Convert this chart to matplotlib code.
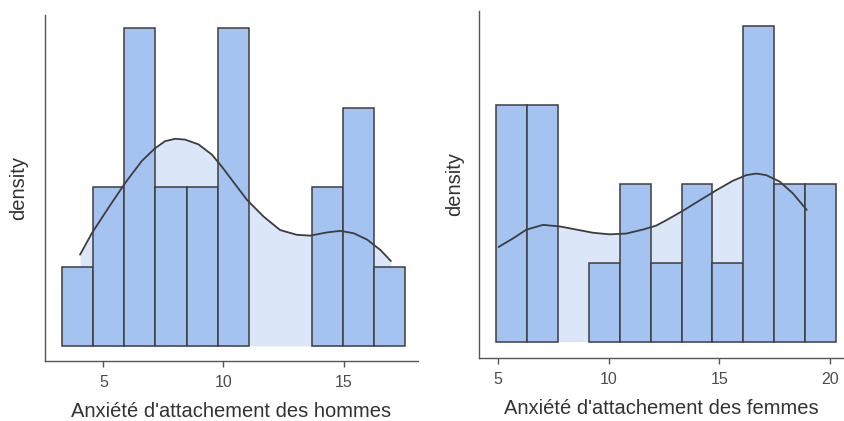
import matplotlib
matplotlib.use("Agg")
import matplotlib.pyplot as plt

plt.rcParams['font.family'] = ['Liberation Sans', 'DejaVu Sans']

# ---- Data: men ----
men_bin_start = 3.27
men_bin_width = 1.3
men_counts = [1, 2, 4, 2, 2, 4, 0, 0, 2, 3, 1]
men_kde_x = [4.03, 4.52, 5.21, 5.90, 6.60, 7.15, 7.57, 7.99, 8.40, 8.96, 9.52,
             9.93, 10.28, 10.98, 11.67, 12.36, 13.06, 13.61, 14.31, 14.86,
             15.42, 15.98, 16.53, 16.97]
men_kde_y = [1.15, 1.42, 1.74, 2.05, 2.33, 2.49, 2.58, 2.61, 2.60, 2.54, 2.41,
             2.26, 2.12, 1.84, 1.63, 1.46, 1.40, 1.39, 1.43, 1.45,
             1.42, 1.34, 1.21, 1.07]
men_ticks = [5, 10, 15]
men_label = "Anxiété d'attachement des hommes"

# ---- Data: women ----
women_bin_start = 4.9
women_bin_width = 1.4
women_counts = [3, 3, 0, 1, 2, 1, 2, 1, 4, 2, 2]
women_kde_x = [5.03, 5.69, 6.29, 7.04, 7.80, 8.55, 9.30, 10.05, 10.80, 11.55,
               12.15, 12.62, 13.37, 14.12, 14.88, 15.63, 16.23, 16.68, 17.13,
               17.73, 18.33, 18.96]
women_kde_y = [1.20, 1.31, 1.42, 1.48, 1.46, 1.42, 1.38, 1.36, 1.37, 1.42,
               1.47, 1.54, 1.66, 1.79, 1.92, 2.04, 2.11, 2.13, 2.11,
               2.03, 1.88, 1.67]
women_ticks = [5, 10, 15, 20]
women_label = "Anxiété d'attachement des femmes"

ylabel = "density"

BAR = "#a5c3f0"
LIGHT = "#dbe7f8"
EDGE = "#3d3d3d"
LINE = "#3d3d3d"
AXIS = "#555555"
TXT = "#4d4d4d"

fig = plt.figure(figsize=(8.44, 4.21), dpi=100)

def panel(rect, start, width, counts, kx, ky, ticks, xlabel, xlim, ylim, ypad):
    ax = fig.add_axes(rect)
    ax.fill_between(kx, 0, ky, color=LIGHT, lw=0, zorder=1)
    for i, c in enumerate(counts):
        if c > 0:
            ax.bar(start + i * width, c, width=width, align='edge',
                   color=BAR, edgecolor=EDGE, linewidth=1.1, zorder=2)
    ax.plot(kx, ky, color=LINE, lw=1.3, zorder=3, solid_capstyle='round',
            solid_joinstyle='round', antialiased=True)
    ax.set_xlim(*xlim)
    ax.set_ylim(*ylim)
    ax.set_xticks(ticks)
    ax.set_xticklabels([str(t) for t in ticks])
    ax.set_yticks([])
    for s in ['top', 'right']:
        ax.spines[s].set_visible(False)
    for s in ['left', 'bottom']:
        ax.spines[s].set_color(AXIS)
        ax.spines[s].set_linewidth(1.0)
    ax.tick_params(axis='x', colors=AXIS, length=4, width=1.0, labelsize=11.5,
                   labelcolor=TXT, pad=6)
    ax.set_xlabel(xlabel, fontsize=14.5, color="#333333", labelpad=9)
    ax.set_ylabel(ylabel, fontsize=14.5, color="#333333", labelpad=ypad)
    return ax

panel([45/844, 1 - 361/421, (418 - 45)/844, (361 - 15)/421],
      men_bin_start, men_bin_width, men_counts, men_kde_x, men_kde_y,
      men_ticks, men_label, (2.57, 18.1), (-0.19, 4.17), 12)

panel([478.7/844, 1 - 358/421, (843 - 478.7)/844, (358 - 11)/421],
      women_bin_start, women_bin_width, women_counts, women_kde_x, women_kde_y,
      women_ticks, women_label, (4.13, 20.6), (-0.207, 4.19), 10.5)

fig.savefig("out.png", dpi=100)
